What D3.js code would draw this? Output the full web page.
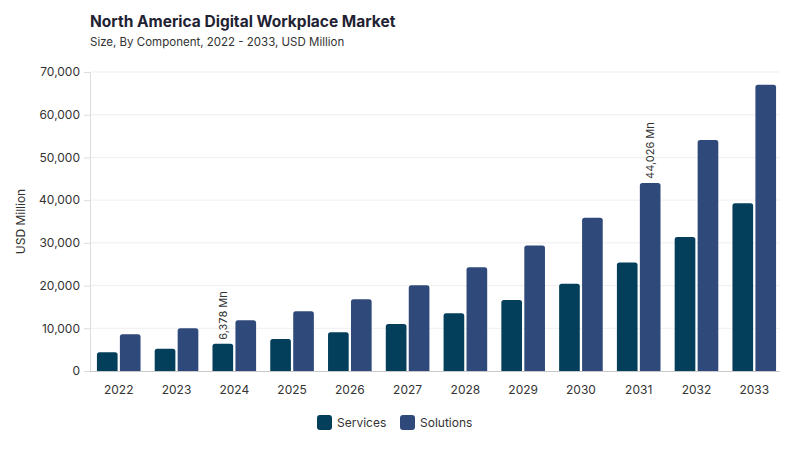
<!DOCTYPE html>
<html>
<head>
<meta charset="utf-8">
<script src="https://cdn.jsdelivr.net/npm/d3@7"></script>
<style>
  body { margin: 0; background: #fff; }
  text { font-family: Inter, "DejaVu Sans", sans-serif; }
</style>
</head>
<body>
<div id="chart"></div>
<script>
// chart data
var years = ["2022", "2023", "2024", "2025", "2026", "2027", "2028", "2029", "2030", "2031", "2032", "2033"];
var services = [4400, 5200, 6378, 7500, 9100, 11000, 13500, 16600, 20400, 25400, 31400, 39300];
var solutions = [8600, 10000, 11900, 14000, 16800, 20100, 24300, 29400, 35900, 44026, 54100, 67000];
var seriesNames = ["Services", "Solutions"];
var seriesColors = ["#033f5b", "#2f4a7a"];
var yTicks = [0, 10000, 20000, 30000, 40000, 50000, 60000, 70000];
// which bars get a value label: [series index, year]
var labelled = [[0, "2024"], [1, "2031"]];

var width = 800, height = 450;
var margin = { top: 72, right: 20, bottom: 79, left: 90 };

var svg = d3.select('#chart')
    .append('svg')
    .attr('width', width)
    .attr('height', height);

svg.append('text')
    .attr('x', 90).attr('y', 27)
    .attr('font-size', 15.5).attr('font-weight', 700).attr('fill', '#1f2233')
    .text('North America Digital Workplace Market');

svg.append('text')
    .attr('x', 90).attr('y', 46)
    .attr('font-size', 11.5).attr('fill', '#333')
    .text('Size, By Component, 2022 - 2033, USD Million');

var xScale = d3.scaleBand()
    .domain(years)
    .range([margin.left, 783])
    .paddingInner(0.245)
    .paddingOuter(0.12);

var xInner = d3.scaleBand()
    .domain([0, 1])
    .range([0, xScale.bandwidth()])
    .paddingInner(0.1);

var yScale = d3.scaleLinear()
    .domain([0, 70000])
    .range([height - margin.bottom, margin.top]);

// gridlines
svg.append('g')
    .selectAll('line')
    .data(yTicks.slice(1))
    .enter().append('line')
    .attr('x1', margin.left).attr('x2', 780)
    .attr('y1', function (d) { return yScale(d); })
    .attr('y2', function (d) { return yScale(d); })
    .attr('stroke', '#efefef');

var yAxis = d3.axisLeft(yScale)
    .tickValues(yTicks)
    .tickSize(6)
    .tickPadding(4)
    .tickFormat(d3.format(','));

var gy = svg.append('g')
    .attr('transform', 'translate(' + margin.left + ',0)')
    .call(yAxis);
gy.select('.domain').attr('stroke', '#dcdcdc');
gy.selectAll('.tick line').attr('stroke', '#dcdcdc');
gy.selectAll('text').attr('font-size', 12).attr('fill', '#333')
    .attr('font-family', 'Inter, sans-serif');

svg.append('text')
    .attr('transform', 'translate(25,' + ((margin.top + height - margin.bottom) / 2) + ') rotate(-90)')
    .attr('text-anchor', 'middle')
    .attr('font-size', 12).attr('fill', '#333')
    .text('USD Million');

// bars
var groups = svg.append('g')
    .selectAll('g')
    .data(years)
    .enter().append('g')
    .attr('transform', function (d) { return 'translate(' + xScale(d) + ',0)'; });

groups.selectAll('path')
    .data(function (d, i) {
        return [{ s: 0, v: services[i], year: d }, { s: 1, v: solutions[i], year: d }];
    })
    .enter().append('path')
    .attr('fill', function (d) { return seriesColors[d.s]; })
    .attr('d', function (d) {
        var x = xInner(d.s), w = xInner.bandwidth();
        var y0 = yScale(0), y1 = yScale(d.v), r = 2.5;
        return 'M' + x + ',' + y0 + 'V' + (y1 + r) +
            'Q' + x + ',' + y1 + ' ' + (x + r) + ',' + y1 +
            'H' + (x + w - r) +
            'Q' + (x + w) + ',' + y1 + ' ' + (x + w) + ',' + (y1 + r) +
            'V' + y0 + 'Z';
    });

// x axis
var xAxis = d3.axisBottom(xScale).tickSize(0).tickPadding(14);
var gx = svg.append('g')
    .attr('transform', 'translate(0,' + yScale(0) + ')')
    .call(xAxis);
gx.select('.domain').attr('stroke', '#c8c8c8').attr('d', 'M' + margin.left + ',0.5H780');
gx.selectAll('text').attr('font-size', 12).attr('fill', '#333')
    .attr('font-family', 'Inter, sans-serif');

// value labels
labelled.forEach(function (l) {
    var i = years.indexOf(l[1]);
    var v = l[0] === 0 ? services[i] : solutions[i];
    var cx = xScale(l[1]) + xInner(l[0]) + xInner.bandwidth() / 2;
    svg.append('text')
        .attr('transform', 'translate(' + (cx + 4) + ',' + (yScale(v) - 4) + ') rotate(-90)')
        .attr('font-size', 11).attr('fill', '#333')
        .text(d3.format(',')(v) + ' Mn');
});

// legend
var legend = svg.append('g')
    .selectAll('g')
    .data(seriesNames)
    .enter().append('g')
    .attr('transform', function (d, i) { return 'translate(' + (317 + i * 83) + ',415)'; });
legend.append('rect')
    .attr('width', 15).attr('height', 15).attr('rx', 3)
    .attr('fill', function (d, i) { return seriesColors[i]; });
legend.append('text')
    .attr('x', 20).attr('y', 12)
    .attr('font-size', 12).attr('fill', '#333')
    .text(function (d) { return d; });
</script>
</body>
</html>
